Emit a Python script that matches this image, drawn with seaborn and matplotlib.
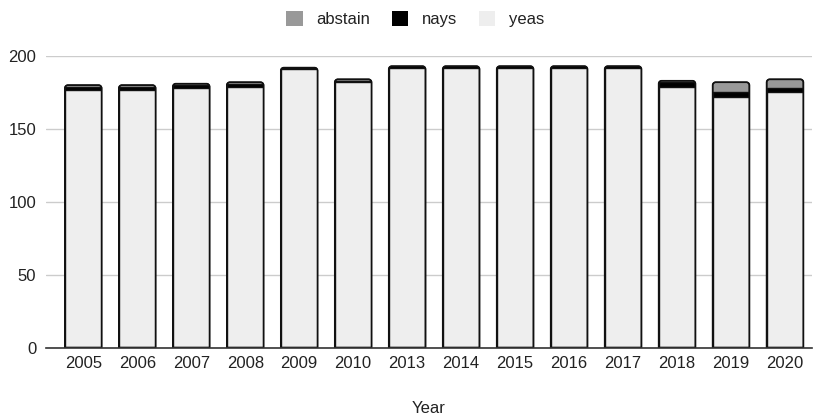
import matplotlib
matplotlib.use("Agg")
import matplotlib.pyplot as plt
from matplotlib.patches import Patch, PathPatch
from matplotlib.path import Path
import seaborn as sns
import pandas as pd

years = ["2005", "2006", "2007", "2008", "2009", "2010", "2013",
         "2014", "2015", "2016", "2017", "2018", "2019", "2020"]
yeas = [177, 177, 178, 179, 191, 182, 192, 192, 192, 192, 192, 179, 172, 175]
nays = [2, 2, 2, 2, 1, 1, 1, 1, 1, 1, 1, 3, 3, 3]
abstain = [1, 1, 1, 1, 0, 1, 0, 0, 0, 0, 0, 1, 7, 6]

colors = {"abstain": "#999999", "nays": "#000000", "yeas": "#eeeeee"}

df = pd.DataFrame({"Year": years, "yeas": yeas, "nays": nays, "abstain": abstain})
df["yn"] = df["yeas"] + df["nays"]
df["total"] = df["yn"] + df["abstain"]

sns.set_theme(style="white")
plt.rcParams["font.family"] = ["Liberation Sans", "DejaVu Sans"]

W, H = 814, 416
fig = plt.figure(figsize=(W / 100, H / 100), dpi=100)
x0, x1, y0, y1 = 46, 812, 347.5, 56
ax = fig.add_axes([x0 / W, (H - y0) / H, (x1 - x0) / W, (y0 - y1) / H])

# stacked bars drawn as overlapping cumulative layers
layers = [("total", colors["abstain"]), ("yn", colors["nays"]), ("yeas", colors["yeas"])]
for col, c in layers:
    sns.barplot(data=df, x="Year", y=col, order=years, color=c, width=0.68,
                edgecolor="#111111", linewidth=1.0, saturation=1, ax=ax, zorder=3)

xmin, xmax, ymin, ymax = -0.69, 13.5, 0, 200
ax.set_xlim(xmin, xmax)
ax.set_ylim(ymin, ymax)

# round the top corners of each stacked bar and clip the inner layers to it
px_x = (x1 - x0) / (xmax - xmin)
px_y = (y0 - y1) / (ymax - ymin)
r = 3.0
rx, ry = r / px_x, r / px_y
k = 0.5523
n = len(years)
rects = list(ax.patches)
outer, inner = rects[:n], rects[n:]
rounded = []
for p in outer:
    bx, by, bw, bh = p.get_x(), p.get_y(), p.get_width(), p.get_height()
    top = by + bh
    verts = [
        (bx, by), (bx, top - ry),
        (bx, top - ry + k * ry), (bx + rx - k * rx, top), (bx + rx, top),
        (bx + bw - rx, top),
        (bx + bw - rx + k * rx, top), (bx + bw, top - ry + k * ry), (bx + bw, top - ry),
        (bx + bw, by), (bx, by),
    ]
    codes = [Path.MOVETO, Path.LINETO,
             Path.CURVE4, Path.CURVE4, Path.CURVE4,
             Path.LINETO,
             Path.CURVE4, Path.CURVE4, Path.CURVE4,
             Path.LINETO, Path.CLOSEPOLY]
    pp = PathPatch(Path(verts, codes), facecolor=p.get_facecolor(),
                   edgecolor="#111111", linewidth=1.0, zorder=2.5)
    ax.add_patch(pp)
    rounded.append(pp)
    p.remove()
for i, p in enumerate(inner):
    p.set_clip_path(rounded[i % n])
    p.set_zorder(3)
# outline on top of the clipped inner layers
for pp in rounded:
    outline = PathPatch(pp.get_path(), facecolor="none", edgecolor="#111111",
                        linewidth=1.2, zorder=3.5)
    ax.add_patch(outline)

ax.set_yticks([0, 50, 100, 150, 200])
ax.yaxis.grid(True, color="#cccccc", linewidth=1)
ax.set_axisbelow(True)
for s in ["top", "right", "left"]:
    ax.spines[s].set_visible(False)
ax.spines["bottom"].set_color("#333333")
ax.spines["bottom"].set_linewidth(1.2)
ax.spines["bottom"].set_zorder(4)
ax.tick_params(axis="both", length=0, labelsize=12, labelcolor="#222222")
ax.tick_params(axis="y", pad=7)
ax.tick_params(axis="x", pad=6)
ax.set_ylabel("")
ax.set_xlabel("Year", fontsize=12, color="#222222", labelpad=22)

handles = [Patch(facecolor=colors[k], edgecolor="none", label=k) for k in ["abstain", "nays", "yeas"]]
fig.legend(handles=handles, loc="upper center", bbox_to_anchor=(0.51, 1.01), ncol=3,
           frameon=False, fontsize=12, handlelength=1.0, handleheight=1.0,
           columnspacing=1.3, handletextpad=0.8, labelcolor="#222222")

fig.savefig("out.png", dpi=100, facecolor="white")
